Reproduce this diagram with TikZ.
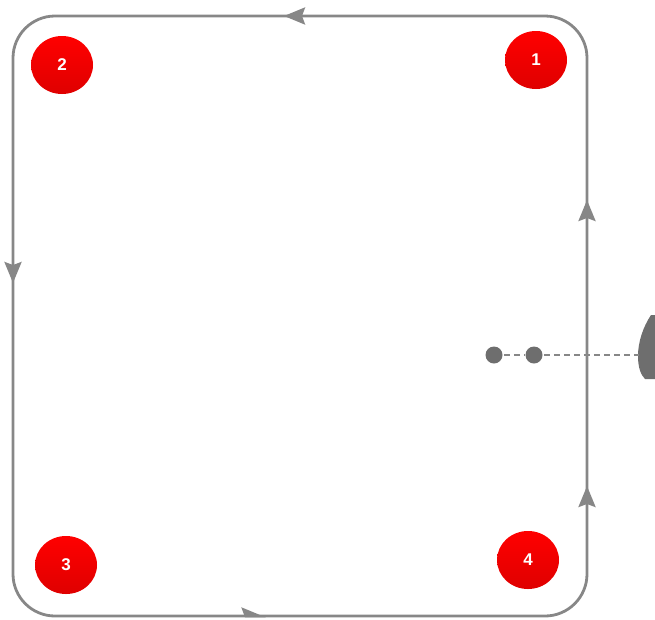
\documentclass[tikz,border=0pt]{standalone}
\usepackage{fontspec}
\setmainfont{Liberation Sans}
\usetikzlibrary{arrows.meta,shapes.geometric}
\definecolor{loopgray}{HTML}{878787}
\definecolor{dotgray}{HTML}{6E6E6E}
\definecolor{ballred}{HTML}{FF0000}
\definecolor{balldark}{HTML}{DF0000}

\begin{document}
\begin{tikzpicture}[x=1pt, y=-1pt, line width=2.8pt,
		ball/.style={ellipse, minimum width=62pt, minimum height=58pt, inner sep=0pt, top color=ballred, bottom color=balldark, text=white, font=\fontsize{17}{17}\selectfont\bfseries},
		track/.style={draw=loopgray},
		dir/.style={track, -{Stealth[length=21pt, width=17pt, inset=3pt]}},
		dot/.style={circle, fill=dotgray, minimum size=17pt, inner sep=0pt},
		beam/.style={draw=loopgray, dash pattern=on 6pt off 4pt}]
		\useasboundingbox (0,0) rectangle (655,619);
		
		% corners of the track
		\coordinate (tl) at (13,16);
		\coordinate (tr) at (587,16);
		\coordinate (br) at (587,616);
		\coordinate (bl) at (13,616);
		\draw[track, rounded corners=42pt] (tl) -- (tr) -- (br) -- (bl) -- cycle;
		
		% direction marks
		\draw[dir] (306,16) -- (284,16);
		\draw[dir] (13,261) -- (13,283);
		\draw[track, -{Stealth[length=21pt, width=17pt, inset=3pt, harpoon]}] (240,616) -- (266,616);
		\draw[dir] (587,222) -- (587,200);
		\draw[dir] (587,508) -- (587,486);
		
		\node[ball] (1) at (536,60) {1};
		\node[ball] (2) at (62,65) {2};
		\node[ball] (3) at (66,565) {3};
		\node[ball] (4) at (528,560) {4};
		
		% sensor
		\node[dot] (a) at (494,355) {};
		\node[dot] (b) at (534,355) {};
		\coordinate (lens) at (639,355);
		\fill[dotgray] (651,315) .. controls (643,327) and (638,342) .. (638,356)
			.. controls (638,368) and (641,375) .. (645,379) -- (655,379) -- (655,315) -- cycle;
		\draw[beam] (a) -- (b);
		\draw[beam] (b) -- (lens);
	\end{tikzpicture}
\end{document}
